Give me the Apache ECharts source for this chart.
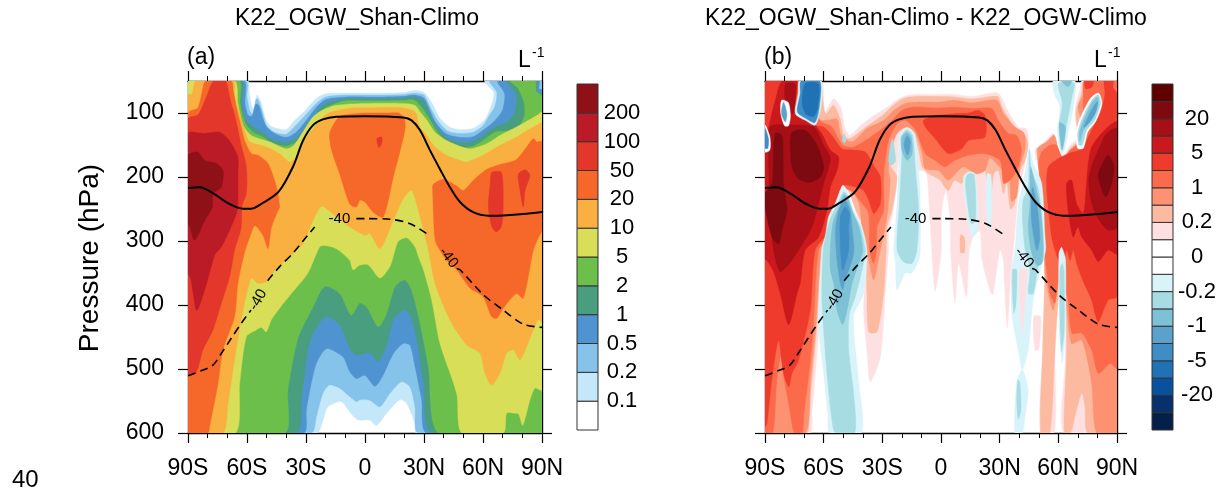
<!DOCTYPE html>
<html>
<head>
<meta charset="utf-8">
<title>K22_OGW_Shan-Climo</title>
<script src="https://cdn.jsdelivr.net/npm/echarts@6/dist/echarts.min.js"></script>
<style>
html, body { margin: 0; padding: 0; background: #fff; }
#chart { width: 1225px; height: 490px; }
</style>
</head>
<body>
<div id="chart"></div>
<script>
// contour outlines, every point is [latitude, pressure in hPa]
// panel (a): each ring is the area at or above that level
const a01 = [[-90,50],[-59.5,50],[-59,65],[-57.5,90],[-56,94],[-55,72],[-53,82],[-51,105],[-49,118],[-45,124],[-40,126],[-36,112],[-31,98],[-25,78],[-20,70],[-10,69],[0,69],[10,69],[20,68],[25,65],[30,68],[34,84],[38,108],[43,122],[48,126],[55,124],[61,110],[64.5,86],[65.5,68],[61,50],[90,50],[90,600],[26,600],[25.4,585],[21.2,554],[17.8,548],[11,569],[5.9,588],[2.5,580],[-2.5,580],[-4.4,578],[-7.8,567],[-12,551],[-18.8,559],[-21.4,580],[-24.4,600],[-90,600]];
const a02 = [[-90,50],[-60.5,50],[-60,75],[-58.5,97],[-57,102],[-55.5,79],[-54.5,78],[-52,100],[-50,120],[-46,130],[-40,133],[-36,122],[-31,106],[-25,86],[-20,75],[-10,72],[0,72],[10,72],[20,71],[25,69],[30,72],[33,90],[37,112],[42,128],[48,132],[55,130],[60,120],[63,105],[66,90],[67,68],[63.5,50],[90,50],[90,600],[27.1,600],[25.4,559],[22.9,528],[18.6,520],[12.7,538],[7.6,559],[2.5,549],[-2.5,548],[-4.4,551],[-7.8,543],[-12.9,530],[-18,525],[-21.4,538],[-24.7,574],[-27.3,600],[-90,600]];
const a05 = [[-90,50],[-61.5,50],[-61,85],[-59.5,103],[-57.5,105],[-55.5,86],[-54,88],[-52,108],[-50,122],[-46,132],[-40,138],[-35,130],[-30,112],[-25,92],[-20,79],[-10,75],[0,75],[10,75],[20,74],[25,72],[30,77],[33,96],[36,115],[41,132],[48,138],[55,137],[60,127],[66,112],[70,95],[71,70],[67.5,50],[88.5,50],[88.5,62],[90,64],[90,600],[31.4,600],[28.8,548],[25.4,496],[22.9,463],[19.5,460],[14.4,476],[9.3,509],[5.1,527],[0,510],[-4.4,515],[-7.8,504],[-11.2,481],[-18.8,468],[-21.4,473],[-24.7,491],[-27.3,522],[-29.8,564],[-31.2,600],[-90,600]];
const a1 = [[-90,50],[-63,50],[-62.5,85],[-60.5,110],[-57,122],[-52,130],[-48,140],[-40,146],[-34,137],[-30,120],[-25,100],[-20,85],[-10,78],[0,78],[10,78],[20,77],[25,75],[30,82],[33,102],[36,120],[41,138],[48,146],[55,144],[60,135],[66,122],[72,115],[76,100],[77,72],[72,50],[87.5,50],[87.5,66],[90,70],[90,600],[33.9,600],[29.7,522],[26.3,455],[22.9,416],[19.5,408],[14.4,423],[11,463],[6.8,488],[2.5,475],[-4.4,478],[-7.8,467],[-12.9,431],[-19.7,418],[-26.4,444],[-29,470],[-32.4,548],[-34.9,600],[-90,600]];
const a2 = [[-90,50],[-64,50],[-63.5,85],[-61,115],[-57,130],[-52,137],[-48,146],[-40,152],[-34,143],[-30,128],[-25,108],[-20,92],[-10,81],[0,81],[10,81],[20,80],[25,80],[29,92],[33,110],[36,126],[41,143],[48,154],[55,152],[60,143],[66,130],[72,128],[78,122],[81,105],[81,85],[78,62],[74,50],[86.5,50],[87,66],[90,74],[90,600],[37.6,600],[32.2,496],[28,429],[23.7,377],[20.3,361],[15.3,371],[11,413],[6.8,434],[0.8,403],[-2.7,397],[-7,416],[-12.9,382],[-20.5,371],[-26.4,403],[-34.1,452],[-39.2,533],[-40.8,600],[-90,600]];
const a5 = [[-90,50],[-66.3,50],[-64.6,85],[-62,119],[-57.8,135],[-48.5,145],[-40,156],[-36,150],[-30,122],[-26.4,106],[-22,96],[-14.6,88],[0,85],[19.5,85],[25.4,88],[28,98],[31.4,111],[35.6,130],[41.5,143],[48.3,152],[53.4,156],[61.9,148],[68.6,135],[77,122],[87.3,104],[90,99],[90,533],[86.4,530],[83.9,548],[80.2,588],[78,570],[75.4,569],[72,569],[70.3,600],[49.2,600],[46.6,538],[38.1,460],[33.9,392],[29.7,345],[27.1,324],[25.4,309],[21.2,295],[17,300],[15.3,314],[12.7,340],[7.6,358],[1.7,337.5],[-2.5,337.5],[-6.1,345],[-7.8,330],[-14.6,312],[-20.5,307],[-23,309],[-29,350],[-36.6,379],[-43.4,405],[-47.6,423],[-50.2,442],[-52.7,435],[-55.3,439],[-60.3,449.5],[-63.7,522],[-65.8,600],[-90,600]];
const a10 = [[-90,72],[-88,70],[-87,58],[-86,50],[-67,50],[-66.3,75],[-63.7,101],[-61.2,127],[-58.6,145],[-50.2,153],[-43.4,163.5],[-38.3,176.6],[-35,169],[-31.5,145],[-26.4,124.5],[-21.4,106],[-17,98],[-6,92],[0,92],[19.5,92],[25.4,98],[28,122],[31.4,135],[35.6,153],[41.5,166],[48.3,174],[51.7,176.6],[60,166],[68.6,150.5],[77,137.5],[83.9,124.5],[87.3,119],[90,116],[90,426],[88.1,423],[85.6,439],[82.2,465],[78.8,486],[75.4,470],[72,475.5],[68.6,507],[64.4,525],[61,507],[58.5,475.5],[51.7,462.5],[43.2,423.5],[35.6,366],[32.2,314],[27.1,252],[23.7,221],[19.5,234],[14.4,268],[7.6,312],[2.5,288.5],[0,291],[-7.8,278],[-14.6,262],[-22,246],[-26.4,268],[-31.5,304],[-35.8,317],[-39.2,327],[-45.1,343],[-50.2,363.5],[-54.4,366],[-57.8,358],[-62.9,423],[-66.3,486],[-69.7,554],[-72.2,600],[-90,600]];
const a20Left = [[-90,100],[-85,92],[-83,70],[-81,50],[-68,50],[-67,64.6],[-65.4,90.6],[-62.9,122],[-61.2,143],[-57.8,163.5],[-54.4,166],[-49.3,179],[-45,215.6],[-43.4,247],[-44.2,252],[-47.6,279],[-49.3,312],[-51.9,291],[-56,276],[-58.6,294],[-61,315],[-64.6,366],[-66.3,418],[-72.2,470],[-74.7,522],[-79,590],[-79.8,600],[-90,600]];
const a20Mid = [[-14.6,111],[-12,104],[-5,101],[0,100],[10,100],[17,100],[20,108],[20.3,127],[14.4,200],[9.3,262.5],[4.2,255],[0,239],[-2.5,236],[-4.4,247],[-7.8,242],[-12.9,195],[-17,158],[-18,132]];
const a20Right = [[34.4,220],[34.7,211.5],[39.8,203.6],[46.6,214],[50,221],[55.1,205],[61.9,188],[68.6,180.5],[77,172.7],[85.6,140],[87.3,145],[90,145],[90,283],[88,296],[85.6,314],[80.5,389.6],[77,382],[70.3,405],[67,421],[64.4,418],[60,387],[53.4,374],[46.6,345],[41.5,330],[38,314],[35.6,298]];
const a50Left = [[-90,109],[-85,103],[-82,85],[-80,70],[-77,50],[-71,50],[-69.5,64],[-68,85],[-66.5,100],[-65,120],[-63,150],[-60.5,180],[-60,210],[-60.5,228],[-62.5,245],[-63,280],[-66.3,314],[-68.8,356],[-73,397],[-77.3,439],[-82.4,470],[-85.8,505],[-90,509]];
const a50Spot = [[6,140],[8.5,137.5],[8.5,148],[7,154]];
const a50Right = [[64.4,193],[69.4,193],[70.3,241],[69.4,277],[66.8,286],[64.4,277],[62.7,246],[63.7,210]];
const a50Far = [[78,195],[81.4,188.5],[83.9,197],[81.4,221],[80.5,247],[78.5,215.6]];
const a100 = [[-90,132],[-82,132],[-74,130],[-69,143],[-64.6,169],[-64.6,190],[-65,252],[-68.8,283],[-73,309],[-76.4,322],[-80.5,366],[-85.5,408],[-88.5,360],[-90,350]];
const a200 = [[-90,166],[-85,161],[-81.5,174],[-75.6,179],[-72.2,189.6],[-73,215.6],[-77.3,226],[-77.6,247],[-81.5,268],[-86.6,299],[-89,278],[-90,270]];

// panel (b), positive levels
const b01Main = [[-90,50],[-61.4,50],[-60,101],[-54.9,77.6],[-51,93],[-49.3,122],[-46.7,135],[-42,122],[-35.3,106],[-26.8,89.6],[-21.7,77.6],[-14.9,71],[-3,71],[7.2,71],[15.7,74],[29.3,69],[33.6,93],[39.5,122],[43.8,124.5],[44.6,150.5],[42.6,184],[39.5,226],[38.7,252],[37,314],[35.8,345],[34,436],[32.4,366],[31.9,330],[30.2,314],[28.5,345],[26.2,384],[21,330],[20,285],[17,290],[14.5,314],[13,387],[9,335],[7.2,397],[5,320],[4.5,260],[2.5,222],[0.5,250],[0,320],[-3,378],[-5,300],[-7,200],[-8.5,190],[-11.4,189.6],[-14,132],[-17.4,126],[-20.8,135],[-22.5,200],[-25,262],[-26.8,283],[-26.8,314],[-28.5,382],[-31,481],[-36.2,520],[-37.9,470],[-39.6,408],[-37.9,314],[-40.4,293],[-43.8,252],[-47.2,216],[-50.3,213],[-53.2,231],[-56.6,252],[-58.3,283],[-60,314],[-62.2,428.6],[-66,574],[-66.8,600],[-90,600]];
const b01Right = [[50.8,600],[52,470],[53,350],[53.2,294],[51.5,210],[48.9,174],[48,158],[53,145],[57.4,132],[60,158],[61.7,170],[66,150.5],[69.4,140],[68.5,96],[71,64.6],[72,50],[90,50],[90,600],[63,600],[63.4,496],[63.7,444],[63,345],[60.3,345],[58.3,470],[58,600]];
const b01Strip = [[40.4,345],[43.8,345],[43,392],[41.6,444],[40.4,392]];
const b01Strip2 = [[47.4,418],[51,418],[50,470],[48,470]];
const b02Main = [[-90,50],[-61.5,50],[-60.9,64.6],[-59,101],[-54.9,88],[-51.5,110],[-49.8,135],[-46.5,140],[-38.5,122],[-30,104],[-24.5,88],[-19,77],[-12,74],[-3,74],[7,75],[16,78],[29,74],[31,90],[35,110],[39,135],[43,135],[44.5,150],[43,175],[40.4,190],[37.8,241],[35.5,250],[33.6,205],[32,226],[29.3,190],[27,195],[25,241],[22.5,190],[19,195],[15.7,190],[10.6,210],[7,205],[3.7,221],[-0.5,205],[-3,200],[-6.3,195],[-9.7,184],[-11.4,158],[-14.8,127],[-18.3,119],[-22,124.5],[-24.2,148],[-26.8,169],[-26,182],[-22.5,200],[-25,252],[-27.6,278],[-28,314],[-29.3,382],[-32.7,442],[-37,442],[-37.9,382],[-38.4,314],[-39.6,278],[-43.8,250],[-48,218],[-51.5,215],[-54.9,239],[-57.5,257],[-59,289],[-60.9,314],[-63.4,431],[-67.7,574],[-68.5,600],[-90,600]];
const b02Right = [[51,600],[52,470],[53,366],[53.2,300],[52,215],[49.4,170],[49,156],[53.5,148],[57.6,134],[60.3,162],[62,172],[66.5,154],[70,142],[69,98],[72,68],[73,50],[90,50],[90,600],[75,600],[73.6,559],[72,538],[68.5,574],[66.3,600],[63,600],[64.2,470],[63.4,366],[60.3,387],[58.3,470],[55.7,600]];
const b02Spot = [[10,290],[12,295],[12,318],[10,318]];
const b05Main = [[-90,50],[-63,50],[-62,110],[-57.5,111],[-53.2,109],[-51,135],[-45.5,145],[-38,124.5],[-29.3,111.5],[-24.2,96],[-18.3,85],[-9.7,83],[-1.2,83],[7,80],[15.7,84],[28.5,80],[32,101],[38,122],[42.6,132],[43,156],[40.4,184],[38.7,231],[36,238],[34.8,190],[32,190],[25,170],[22.5,190],[17.4,195],[11.4,184],[3.7,205],[-1.2,190],[-8,187],[-9.7,163.5],[-13,132],[-17.4,122],[-22.5,132],[-26,158],[-26.8,190],[-26,205],[-27.6,262],[-31,314],[-34.4,361],[-37.9,314],[-40,290],[-42,241],[-46.4,218],[-51,216],[-53.2,244],[-56.6,265],[-58.3,291],[-61.2,314],[-63.9,429],[-66.8,522],[-69.4,600],[-90,600]];
const b05Right = [[79.6,600],[77,522],[72,455],[66.8,460],[64.2,403],[63.4,366],[60,371],[57.4,408],[54.9,382],[53,345],[53,290],[51,212],[49.4,156],[54,145],[58,135],[60.8,169],[63.4,171],[66.8,158],[70.5,145],[71.9,158],[72.8,122],[70,91],[72.8,70],[73.3,50],[90,50],[90,600]];
const b1Main = [[-90,50],[-65,50],[-65,100],[-60.9,114],[-55.8,122],[-50.3,150.5],[-44.7,153],[-38.7,143],[-30,124.5],[-25,111.5],[-20,96],[-14.8,91],[-1.2,92],[7,91],[17.4,93],[26,93],[29.3,111.5],[34.4,132],[38.7,135],[41.2,158],[38.7,190],[35.3,205],[32,210],[30.2,174],[22.5,163.5],[14,166],[7,174],[2,184],[-3,174],[-8,163.5],[-13,127],[-18.3,111.5],[-22.5,117],[-26.8,143],[-29.3,195],[-29.3,252],[-32.7,278],[-33,314],[-34.5,335],[-36.5,314],[-37,257],[-40.4,241],[-45.5,223],[-50.3,218],[-52.7,236],[-55.8,257],[-57,289],[-62.6,314],[-65,418],[-66.8,486],[-70.2,574],[-71,600],[-75,600],[-77.5,560],[-80,520],[-82,480],[-84,520],[-86,600],[-90,600]];
const b1Right = [[90,499],[86.5,491],[80.5,507],[77,470],[72,444],[67,444],[65,392],[62.5,371],[60.3,361],[58.3,397],[55.7,382],[54,345],[53,319],[51.5,242],[50,179],[51.5,161],[55.7,150.5],[59,150],[62.5,171],[66,158],[70,150.5],[71.6,161],[72.8,111.5],[72.8,77.6],[73.6,50],[90,50]];
const b2Main = [[-90,50],[-74,50],[-74.5,98],[-69.4,111.5],[-65,119],[-60,122],[-55.8,135],[-50.6,156],[-44.7,158],[-38.7,161],[-34.4,182],[-31,200],[-31,241],[-34.4,257],[-37,236],[-39.6,221],[-43.8,215.6],[-49.8,213],[-53.2,233],[-55.8,252],[-56.6,283],[-64.3,314],[-66.8,408],[-72.8,486],[-76.2,507],[-77.9,528],[-80.5,507],[-83,455],[-85.6,496],[-87.3,538],[-89,585],[-90,590]];
const b2Mid = [[-9,111.5],[-4.6,106],[-3,104],[7,101],[14,100],[19,96],[22.5,104],[22.5,137.5],[14,143],[10.6,156],[3.7,163.5],[-3,140],[-8,122]];
const b2Right = [[54,215],[54.9,184],[60,171],[65,163.5],[71.9,156],[77,127],[82,96],[83.8,70],[83.5,50],[88,50],[88,60],[90,70],[90,387],[85.5,392],[80.4,426],[77,392],[72.8,363.6],[69.4,335],[67.6,314],[66,330],[64.2,314],[62,345],[60,330],[57,300],[55.7,273]];
const b2Top = [[73.5,50],[78,50],[77,60],[74,62]];
const b5Main = [[-90,150],[-87.3,111.5],[-84.7,80],[-81.3,50],[-73.6,50],[-75,96],[-70,109],[-66,114],[-61,132],[-56.6,158],[-52.3,169],[-53.2,190],[-56.6,216],[-58.3,252],[-62.6,294],[-69.4,314],[-72,366],[-73.6,382],[-77.9,431],[-82.2,382],[-85.6,348],[-89,330],[-90,328]];
const b5Right = [[75.3,179],[77,153],[82,132],[87.2,117],[90,114],[90,320],[85.5,314],[80.4,332],[77,314],[72,294],[70,278],[67.6,294],[65,252],[64.2,210],[66.8,205],[69.4,242],[72.8,257],[74.5,205]];
const b10Main = [[-87.3,122],[-77.9,119],[-65,122],[-60,150.5],[-56.6,171],[-60,210],[-62.6,241],[-66,278],[-72.8,314],[-77,333],[-82.2,348],[-85.6,314],[-87.3,257],[-88,190]];
const b10Top = [[-79.6,55],[-74.5,55],[-75.5,100],[-79,95]];
const b10Right = [[77,184],[80.4,158],[84.7,132],[90,124.5],[90,278],[85.5,283],[80.4,265],[77,240],[75.5,205]];
const b20Main = [[-76.2,130],[-69.4,127],[-63.4,150.5],[-60,184],[-61.7,200],[-66.8,208],[-72.8,203],[-76.2,184],[-77,153]];
const b20Left = [[-84.7,132],[-81.3,135],[-80.5,210],[-78.8,252],[-81.3,283],[-83,304],[-86.4,294],[-90,247],[-90,226],[-86.4,210],[-85.6,163.5]];
const b20Right = [[85.5,166],[88.4,184],[87.2,210],[84.2,231],[80.4,200],[81.3,187]];
// white gaps around the small blue patches
const b0Ellipse = [[69.8,155],[69.2,130],[71.2,108],[76.5,77],[80.6,69],[82.3,85],[79.3,112],[75,130],[72.8,155]];
const b0Oval = [[-81.5,80],[-78,84],[-77,105],[-78,120],[-80,120],[-82,100]];
const b0Edge = [[-90,119],[-87.5,137.5],[-87.5,158],[-90,161]];
// panel (b), negative levels
const n01Col1 = [[-50.3,213],[-54,241],[-57.5,262],[-59,289],[-61,314],[-62.6,434],[-60,507],[-57.8,574],[-57,600],[-40.8,600],[-42,522],[-44.7,418],[-39.6,382],[-37.9,314],[-40.4,278],[-44.7,252],[-48,221]];
const n02Col1 = [[-49.8,223],[-53.2,244],[-56.6,265],[-58.8,291],[-60.3,314],[-60.9,392],[-58.3,507],[-56,574],[-54,600],[-44.2,600],[-44.7,538],[-47.2,470],[-46.9,415],[-43.8,387],[-39.6,335],[-38.7,314],[-41.3,278],[-44.7,257],[-48,228]];
const n05Col1 = [[-49.8,228],[-52.3,247],[-55.4,273],[-56.6,314],[-56.6,345],[-54.9,366],[-53.2,408],[-50.3,431],[-48,408],[-45.5,366],[-42,335],[-40,314],[-42,278],[-45.5,252],[-48,231]];
const n1Col1 = [[-49.3,236],[-52.3,252],[-54,283],[-53.2,330],[-51.5,366],[-50.3,376],[-49,361],[-45.5,330],[-44.5,314],[-45.5,278],[-46.4,252]];
const n2Col1 = [[-49,247],[-51.5,262],[-51.5,304],[-50.3,346],[-47.2,314],[-47.2,278],[-46.8,257]];
const n01Col2 = [[-17.4,123],[-13.5,132],[-11.4,190],[-10.6,242],[-10.6,314],[-11.4,330],[-14.9,350],[-18.3,350],[-22.5,376],[-23.4,330],[-24.2,314],[-22.5,242],[-21.7,190],[-21.3,135]];
const n02Col2 = [[-17.4,126],[-14.5,135],[-13,190],[-11.4,252],[-12.3,314],[-14.8,335],[-19,333],[-22.5,314],[-21.3,242],[-20,163.5],[-20.5,137.5]];
const n05Col2 = [[-17.4,130],[-15.2,137.5],[-14.8,163.5],[-17.4,174],[-20,158],[-20,137.5]];
const n1Col2 = [[-17.4,135],[-15.6,145],[-17,166],[-19,150]];
const n02Patch = [[-25,140],[-23.7,158],[-23.4,176],[-26,182],[-26.8,171]];
const n02Dot = [[-49.5,132],[-48.5,143],[-49.5,147],[-50.5,143]];
const n01Strip = [[14,192],[17.4,195],[19,283],[15.7,294],[12.6,241],[11.4,200]];
const n02Strip = [[14,195],[17,197],[17.7,268],[15.3,273],[13.1,231],[12.5,205]];
const n01Thin = [[23.5,195],[25.5,197],[26,250],[25,285],[23,250]];
const n01Col3 = [[45.1,154],[47.2,179],[51.5,210],[53.2,294],[53.5,314],[51,345],[49,366],[47.2,392],[45.5,444],[44.6,470],[41.6,501],[39.5,470],[37.8,444],[36,408],[36,345],[37.8,314],[39.5,242],[42,210],[43.8,179]];
const n01Low = [[37.8,600],[38.7,522],[41.6,501],[44.6,533],[43,574],[41.6,600]];
const n02Col3 = [[45.1,158],[46.3,190],[50,221],[52.3,294],[52.3,330],[49.8,340],[47.2,382],[44.6,382],[45.5,345],[43,314],[41.6,262],[42,236],[44.6,216]];
const n02Thin = [[36.5,345],[38.7,345],[38.3,400],[37.2,413]];
const n05Col3 = [[45.8,184],[48,210],[51,252],[52.3,309],[51.5,335],[49,338],[46,314],[44.6,278],[45.5,242]];
const n1Col3 = [[46.7,216],[49,242],[50.6,294],[49,315],[46.3,267.7]];
const n02Low = [[39.2,517],[40.4,522],[40.9,564],[39.5,579],[38.7,550]];
const n01Col4 = [[60.3,320],[61.7,310],[63.7,330],[63.5,440],[62,490],[60.5,440]];
const n02Col4 = [[60.8,345],[62,335],[63,350],[63,440],[61.7,473],[61,440]];
const n01Top = [[57.4,50],[68.5,50],[68,85],[65,132],[62.5,163.5],[61,160],[59.6,127],[60.8,90.6],[58,70]];
const n02Top = [[60,54],[68,53],[67,75],[64,122],[61.7,158],[60.3,122],[62,85]];
const n05Top = [[61.7,50],[66.8,50],[65,59]];
const n05Top2 = [[60.5,115],[63.7,122],[62,158]];
const n02Ellipse = [[70.5,150],[69.9,132],[71.9,111],[77,80],[80.4,71],[81.6,85],[78.7,111],[74.5,127],[72.3,150]];
const n05Ellipse = [[71,145],[71,127],[77,85],[80,75],[80.4,88],[77,111],[72.8,127]];
const n1Ellipse = [[73,122],[77,95],[80,82],[79,100],[75,118]];
const n01Blob = [[-72.4,50],[-61.4,50],[-61.4,91],[-64.3,119],[-69.4,111.5],[-74.5,101],[-73,70]];
const n2Blob = [[-71.5,50],[-62,50],[-62.2,90],[-64.5,115],[-69.4,108],[-73.5,98],[-72,70]];
const n5Blob = [[-69.4,54],[-62.6,54],[-63,91],[-65,105],[-69,102],[-71,85]];
const n1Oval = [[-80.5,83],[-78.8,101],[-79.6,114],[-81.6,101]];
const n2Edge = [[-90,124],[-88.2,140],[-88.5,155],[-90,155]];

// tropopause and the -40 isotherm, gaps left for the labels
const tropopause = [[-90,217],[-84,216],[-77,226],[-69,242],[-62,249.5],[-58,249.5],[-52,240.6],[-44,223.4],[-36.6,184],[-31.5,143],[-26.4,119],[-21.4,110],[-14.6,106],[0,105],[19.5,107],[23.7,111.5],[28,127],[33,158],[38,187],[43.2,216],[48.3,239],[55,255],[62.7,260.4],[70.3,260],[80.5,258],[90,254.7]];
const isotherm = [[-90,510.4],[-82.4,501.6],[-77.3,494],[-73,475.5],[-68,452],[-62.9,428.6],[-58,408],null,[-49.5,362],[-43.4,340],[-36.6,319],[-31,298],[-25.6,278],null,[-4.4,265],[0,265],[12.7,266],[23,273],[33,292],null,[46.6,343],[48.3,345],[60.2,384],[70.3,408],[80.5,430],[90,435]];
const isoLabels = [[-54.4,392,60],[-13,266,0],[42.4,326,-52]];

const latTicks = [-90,-60,-30,0,30,60,90];
const latNames = ['90S','60S','30S','0','30N','60N','90N'];
const plevTicks = [100,200,300,400,500,600];
const barA = ['','0.1','0.2','0.5','1','2','5','10','20','50','100','200',''];
const barB = ['','','-20','','-5','','-1','','-0.2','','0','','0.2','','1','','5','','20','',''];

const colorsA = ['#ffffff','#c4e7f9','#85c3ea','#4f94d0','#4a9e80','#6cbf4b','#d8de58','#f9b041','#f6682a','#e2372a','#bb1a27','#8e1118'];
const colorsB = ['#051f4b','#08306b','#08519c','#2171b5','#3f8dc5','#5aa1cc','#7cc1d6','#a8dce3','#d9f3fb','#ffffff','#ffffff','#fee0e2','#fcbba1','#fc9272','#fb6a4a','#ef3b2c','#cb181d','#a50f15','#7c0a10','#5e0000'];

// painted in this order: [index into the colour list, ring]
const layersA = [[1,a01],[2,a02],[3,a05],[4,a1],[5,a2],[6,a5],[7,a10],[8,a20Left],[8,a20Mid],[8,a20Right],[9,a50Left],[9,a50Spot],[9,a50Right],[9,a50Far],[10,a100],[11,a200]];
const layersB = [[11,b01Main],[11,b01Right],[12,b02Main],[12,b02Right],[13,b05Main],[13,b05Right],[14,b1Main],[14,b1Right],[15,b2Main],[15,b2Mid],[15,b2Right],[15,b2Top],[16,b5Main],[16,b5Right],[17,b10Main],[17,b10Top],[17,b10Right],[18,b20Main],[18,b20Left],[18,b20Right],
  [9,b0Ellipse],[9,b0Oval],[9,b0Edge],
  [8,n01Col1],[7,n02Col1],[6,n05Col1],[5,n1Col1],[4,n2Col1],[8,n01Col2],[7,n02Col2],[6,n05Col2],[5,n1Col2],[7,n02Patch],[7,n02Dot],[8,n01Strip],[7,n02Strip],[8,n01Thin],[8,n01Col3],[8,n01Low],[7,n02Col3],[7,n02Thin],[6,n05Col3],[5,n1Col3],[7,n02Low],[8,n01Col4],[7,n02Col4],[8,n01Top],[7,n02Top],[6,n05Top],[6,n05Top2],[7,n02Ellipse],[6,n05Ellipse],[5,n1Ellipse],[8,n01Blob],[4,n2Blob],[3,n5Blob],[5,n1Oval],[4,n2Edge],
  [11,b01Strip],[11,b01Strip2],[12,b02Spot]];

const FONT = '"Liberation Sans", Arial, sans-serif';

function contourSeries(layers, colors, axisIndex) {
    return {
        type: 'custom',
        xAxisIndex: axisIndex,
        yAxisIndex: axisIndex,
        clip: true,
        silent: true,
        data: layers.map((l, i) => [i]),
        encode: { x: -1, y: -1 },
        renderItem: (params, api) => {
            const layer = layers[params.dataIndex];
            const color = colors[layer[0]];
            return {
                type: 'polygon',
                shape: { points: layer[1].map(p => api.coord(p)), smooth: 0.25 },
                style: { fill: color, stroke: color, lineWidth: 0.4 }
            };
        }
    };
}

function lineSeries(values, axisIndex, dashed) {
    return {
        type: 'line',
        xAxisIndex: axisIndex,
        yAxisIndex: axisIndex,
        data: values,
        showSymbol: false,
        smooth: 0.3,
        connectNulls: false,
        silent: true,
        z: 5,
        lineStyle: { color: '#000', width: dashed ? 1.6 : 2, type: dashed ? [8, 5] : 'solid' }
    };
}

function labelSeries(axisIndex) {
    return {
        type: 'custom',
        xAxisIndex: axisIndex,
        yAxisIndex: axisIndex,
        silent: true,
        z: 6,
        data: isoLabels,
        renderItem: (params, api) => {
            const c = api.coord([api.value(0), api.value(1)]);
            return {
                type: 'text',
                x: c[0],
                y: c[1],
                rotation: api.value(2) * Math.PI / 180,
                style: { text: '-40', font: '15px ' + FONT, fill: '#000', align: 'center', verticalAlign: 'middle' }
            };
        }
    };
}

function boxSeries(colors, axisIndex) {
    return {
        type: 'custom',
        xAxisIndex: axisIndex,
        yAxisIndex: axisIndex,
        silent: true,
        data: colors.map((c, i) => [i]),
        encode: { y: 0 },
        renderItem: (params, api) => {
            const i = params.dataIndex;
            const a = api.coord([0, i]);
            const b = api.coord([1, i + 1]);
            return {
                type: 'rect',
                shape: { x: a[0], y: b[1], width: b[0] - a[0], height: a[1] - b[1] },
                style: { fill: colors[i], stroke: '#333', lineWidth: 1 }
            };
        }
    };
}

function latAxis(gridIndex, position, labelled) {
    return {
        type: 'value', gridIndex, position, min: -90, max: 90, interval: 30,
        splitLine: { show: false },
        axisLine: { onZero: false, lineStyle: { color: '#000', width: 1.4 } },
        axisTick: { show: true, length: 10, lineStyle: { color: '#000', width: 1.2 } },
        minorTick: { show: true, splitNumber: 3, length: 5, lineStyle: { color: '#000', width: 1 } },
        axisLabel: { show: labelled, margin: 24, fontFamily: FONT, fontSize: 23, color: '#000', formatter: v => latNames[latTicks.indexOf(v)] }
    };
}

function plevAxis(gridIndex, position, labelled) {
    return {
        type: 'value', gridIndex, position, inverse: true, min: 50, max: 600,
        splitLine: { show: false },
        axisLine: { onZero: false, lineStyle: { color: '#000', width: 1.4 } },
        axisTick: { show: true, length: 10, customValues: plevTicks, lineStyle: { color: '#000', width: 1.2 } },
        axisLabel: { show: labelled, margin: 24, fontFamily: FONT, fontSize: 23, color: '#000', customValues: plevTicks }
    };
}

function barAxes(gridIndex, names) {
    return [
        { type: 'value', gridIndex, min: 0, max: 1, show: false },
        {
            type: 'value', gridIndex, position: 'right', min: 0, max: names.length - 1, interval: 1,
            splitLine: { show: false }, axisLine: { show: false, onZero: false }, axisTick: { show: false },
            axisLabel: { align: 'center', margin: 24, padding: [3, 0, 0, 0], fontFamily: FONT, fontSize: 22, color: '#000', formatter: v => names[v] }
        }
    ];
}

const barAxesA = barAxes(4, barA);
const barAxesB = barAxes(5, barB);

function text(t, x, y, size, extra) {
    return { type: 'text', x, y, style: Object.assign({ text: t, font: size + 'px ' + FONT, fill: '#000' }, extra || {}) };
}

const chart = echarts.init(document.getElementById('chart'));
chart.setOption({
    animation: false,
    backgroundColor: '#fff',
    grid: [
        { left: 188, top: 81, width: 354, height: 352 },
        { left: 188, top: 81, width: 354, height: 352 },
        { left: 765, top: 81, width: 352, height: 352 },
        { left: 765, top: 81, width: 352, height: 352 },
        { left: 577, top: 84, width: 21, height: 346 },
        { left: 1152, top: 84, width: 21, height: 346 }
    ],
    xAxis: [
        latAxis(0, 'bottom', true), latAxis(1, 'top', false),
        latAxis(2, 'bottom', true), latAxis(3, 'top', false),
        barAxesA[0], barAxesB[0]
    ],
    yAxis: [
        plevAxis(0, 'left', true), plevAxis(1, 'right', false),
        plevAxis(2, 'left', false), plevAxis(3, 'right', false),
        barAxesA[1], barAxesB[1]
    ],
    series: [
        contourSeries(layersA, colorsA, 0),
        lineSeries(tropopause, 0, false),
        lineSeries(isotherm, 0, true),
        labelSeries(0),
        contourSeries(layersB, colorsB, 2),
        lineSeries(tropopause, 2, false),
        lineSeries(isotherm, 2, true),
        labelSeries(2),
        boxSeries(colorsA, 4),
        boxSeries(colorsB, 5)
    ],
    graphic: [
        text('K22_OGW_Shan-Climo', 357, 19, 23, { align: 'center', verticalAlign: 'middle' }),
        text('K22_OGW_Shan-Climo - K22_OGW-Climo', 926, 19, 23, { align: 'center', verticalAlign: 'middle' }),
        text('(a)', 187, 58, 23, { verticalAlign: 'middle' }),
        text('(b)', 764, 58, 23, { verticalAlign: 'middle' }),
        text('L', 518, 61, 23, { verticalAlign: 'middle' }),
        text('-1', 532, 53, 14, { verticalAlign: 'middle' }),
        text('L', 1094, 61, 23, { verticalAlign: 'middle' }),
        text('-1', 1108, 53, 14, { verticalAlign: 'middle' }),
        { type: 'text', x: 90, y: 258, rotation: Math.PI / 2, style: { text: 'Pressure (hPa)', font: '28px ' + FONT, fill: '#000', align: 'center', verticalAlign: 'middle' } },
        text('40', 12, 480, 24, { verticalAlign: 'middle' })
    ]
});
</script>
</body>
</html>
